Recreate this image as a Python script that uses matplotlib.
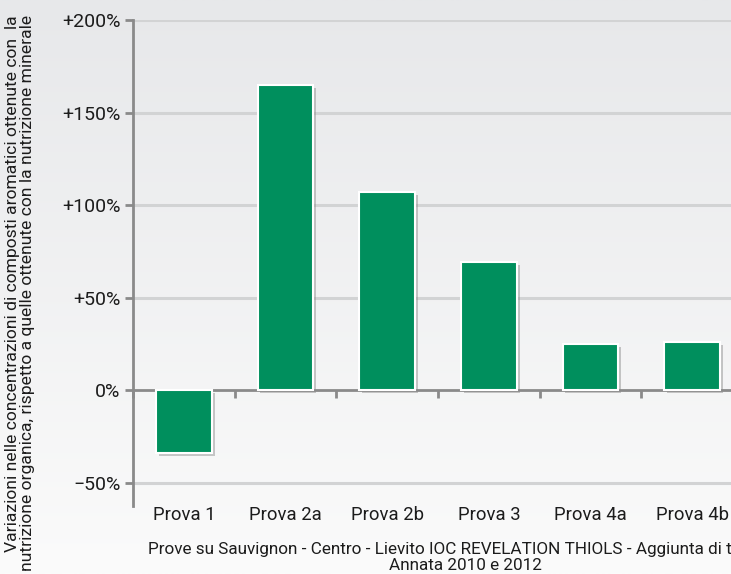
import matplotlib.pyplot as plt
import matplotlib.patheffects as pe
from matplotlib.colors import LinearSegmentedColormap
import numpy as np

# Data
categories = ["Prova 1", "Prova 2a", "Prova 2b", "Prova 3", "Prova 4a", "Prova 4b"]
values = [-34, 165, 107, 69, 25, 26]
y_ticks = [-50, 0, 50, 100, 150, 200]
y_labels = ["\u221250%", "0%", "+50%", "+100%", "+150%", "+200%"]

plt.rcParams["font.family"] = ["Roboto", "DejaVu Sans"]
txt = "#1c1c1c"

fig = plt.figure(figsize=(7.31, 5.74), dpi=100)

# gradient background
bg = fig.add_axes([0, 0, 1, 1], zorder=-10)
grad = np.linspace(0, 1, 256).reshape(-1, 1)
cmap = LinearSegmentedColormap.from_list("bg", ["#e7e8ea", "#fbfbfb"])
bg.imshow(grad, aspect="auto", cmap=cmap, extent=[0, 1, 0, 1], origin="upper")
bg.axis("off")

ax = fig.add_axes([133 / 731, 68 / 574, 610 / 731, 486 / 574])
ax.patch.set_alpha(0)
ymin, ymax = -62.7, 200
ax.set_ylim(ymin, ymax)
ax.set_xlim(-0.5, len(categories) - 0.5)

x = np.arange(len(categories))
bars = ax.bar(x, values, width=0.55, color="#008f5d", edgecolor="white",
              linewidth=1.5, zorder=3)
for b in bars:
    b.set_path_effects([pe.SimplePatchShadow(offset=(2, -2), shadow_rgbFace="#888888", alpha=0.45),
                        pe.Normal()])

# grid
for t in y_ticks:
    if t != 0:
        ax.axhline(t, color="#d2d3d4", lw=2.2, zorder=1)

ax.set_yticks(y_ticks)
ax.set_yticklabels(y_labels, fontsize=14, color=txt)
ax.tick_params(axis="y", length=6, width=2, color="#8a8a8a", pad=3)

ax.set_xticks(x)
ax.set_xticklabels(categories, fontsize=13.3, color=txt)
ax.tick_params(axis="x", length=0, pad=0)

for s in ["top", "right", "bottom"]:
    ax.spines[s].set_visible(False)
ax.spines["left"].set_color("#8a8a8a")
ax.spines["left"].set_linewidth(2)

# zero line with tick marks between categories
zero_frac = (0 - ymin) / (ymax - ymin)
sec = ax.secondary_xaxis(zero_frac)
sec.set_xticks(np.arange(len(categories) + 1) - 0.5)
sec.set_xticklabels([])
sec.tick_params(length=6, width=2, color="#8a8a8a", direction="out")
sec.spines["bottom"].set_color("#8a8a8a")
sec.spines["bottom"].set_linewidth(2)
sec.spines["bottom"].set_zorder(4)

fig.text(20 / 731, 1 - 15 / 574,
         "Variazioni nelle concentrazioni di composti aromatici ottenute con  la\n"
         "nutrizione organica, rispetto a quelle ottenute con la nutrizione minerale",
         rotation=90, ha="center", va="top", multialignment="right",
         fontsize=12.6, color=txt, linespacing=1.0)

fig.text(465 / 731, 1 / 574,
         "Prove su Sauvignon - Centro - Lievito IOC REVELATION THIOLS - Aggiunta di tiamina\n"
         "Annata 2010 e 2012",
         ha="center", va="bottom", fontsize=12.3, color=txt,
         multialignment="center", linespacing=1.05)

fig.savefig("out.png", dpi=100)
